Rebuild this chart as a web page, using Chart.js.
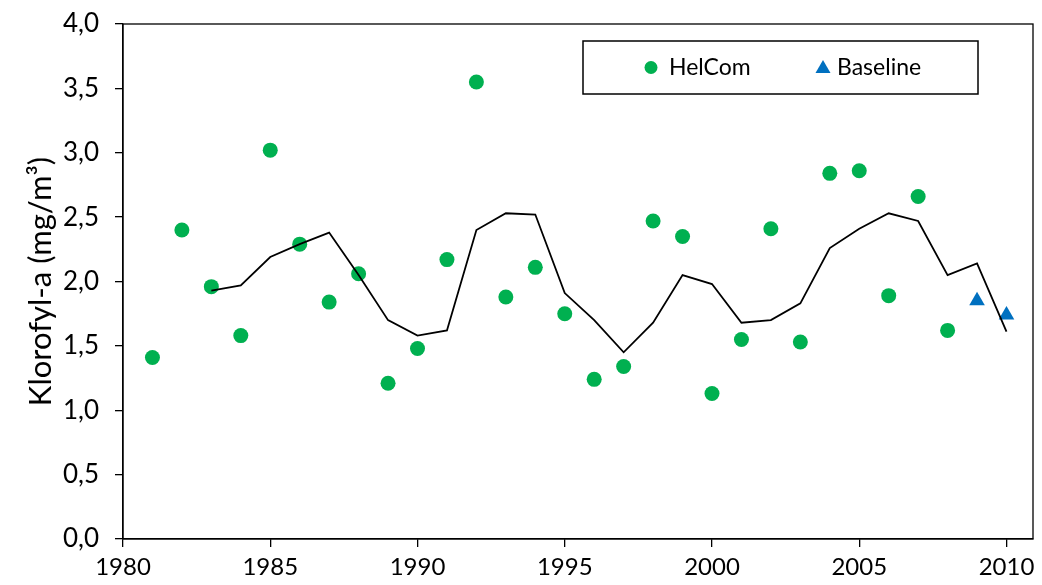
<!DOCTYPE html>
<html>
<head>
<meta charset="utf-8">
<script src="https://cdn.jsdelivr.net/npm/chart.js@4.4.1/dist/chart.umd.min.js"></script>
<style>
  html, body { margin: 0; padding: 0; background: #fff; }
  #wrap { width: 1042px; height: 585px; }
</style>
</head>
<body>
<div id="wrap"><canvas id="klorofyl"></canvas></div>
<script>
// yearly chlorophyll-a, HelCom monitoring
const helcomYears = [1981, 1982, 1983, 1984, 1985, 1986, 1987, 1988, 1989, 1990,
  1991, 1992, 1993, 1994, 1995, 1996, 1997, 1998, 1999, 2000,
  2001, 2002, 2003, 2004, 2005, 2006, 2007, 2008];
const helcomValues = [1.41, 2.40, 1.96, 1.58, 3.02, 2.29, 1.84, 2.06, 1.21, 1.48,
  2.17, 3.55, 1.88, 2.11, 1.75, 1.24, 1.34, 2.47, 2.35, 1.13,
  1.55, 2.41, 1.53, 2.84, 2.86, 1.89, 2.66, 1.62];

// baseline survey
const baselineYears = [2009, 2010];
const baselineValues = [1.85, 1.74];

// running mean
const meanYears = [1983, 1984, 1985, 1986, 1987, 1988, 1989, 1990, 1991, 1992,
  1993, 1994, 1995, 1996, 1997, 1998, 1999, 2000, 2001, 2002,
  2003, 2004, 2005, 2006, 2007, 2008, 2009, 2010];
const meanValues = [1.93, 1.97, 2.19, 2.29, 2.38, 2.05, 1.70, 1.58, 1.62, 2.40,
  2.53, 2.52, 1.91, 1.70, 1.45, 1.68, 2.05, 1.98, 1.68, 1.70,
  1.83, 2.26, 2.41, 2.53, 2.47, 2.05, 2.14, 1.61];

const xTicks = [1980, 1985, 1990, 1995, 2000, 2005, 2010];
const yTicks = [0, 0.5, 1, 1.5, 2, 2.5, 3, 3.5, 4];

const FONT = 'Lato';
const GREEN = '#00B050';
const BLUE = '#0070C0';

function pts(xs, ys) {
  return xs.map((x, i) => ({ x: x, y: ys[i] }));
}

// box round the plot area, plus the framed legend in the top right
const framePlugin = {
  id: 'frame',
  afterDraw(chart) {
    const { ctx, chartArea: a } = chart;
    ctx.save();
    ctx.strokeStyle = '#000';
    ctx.lineWidth = 1.3;
    ctx.strokeRect(a.left, a.top, a.right - a.left, a.bottom - a.top);

    // legend
    const bx = 583, by = 41, bw = 395, bh = 53;
    ctx.fillStyle = '#fff';
    ctx.fillRect(bx, by, bw, bh);
    ctx.lineWidth = 1.5;
    ctx.strokeRect(bx, by, bw, bh);

    const cy = by + bh / 2;
    ctx.fillStyle = GREEN;
    ctx.beginPath();
    ctx.arc(651, cy, 6.5, 0, Math.PI * 2);
    ctx.fill();

    ctx.fillStyle = BLUE;
    ctx.beginPath();
    ctx.moveTo(823, cy - 7.5);
    ctx.lineTo(830.5, cy + 5.5);
    ctx.lineTo(815.5, cy + 5.5);
    ctx.closePath();
    ctx.fill();

    ctx.fillStyle = '#000';
    ctx.font = '23px ' + FONT;
    ctx.textBaseline = 'middle';
    ctx.textAlign = 'left';
    ctx.fillText(chart.data.datasets[1].label, 669, cy);
    ctx.fillText(chart.data.datasets[2].label, 837, cy);
    ctx.restore();
  }
};

const axisGrid = {
  display: true,
  drawOnChartArea: false,
  drawTicks: true,
  tickLength: 8,
  color: '#000',
  lineWidth: 1.3
};

new Chart(document.getElementById('klorofyl'), {
  type: 'scatter',
  data: {
    datasets: [{
      label: 'Mean',
      type: 'line',
      data: pts(meanYears, meanValues),
      borderColor: '#000',
      borderWidth: 1.8,
      pointRadius: 0,
      tension: 0,
      fill: false,
      order: 0
    }, {
      label: 'HelCom',
      data: pts(helcomYears, helcomValues),
      pointStyle: 'circle',
      pointRadius: 7.5,
      backgroundColor: GREEN,
      borderWidth: 0,
      order: 1
    }, {
      label: 'Baseline',
      data: pts(baselineYears, baselineValues),
      pointStyle: 'triangle',
      pointRadius: 9,
      backgroundColor: BLUE,
      borderWidth: 0,
      order: 2
    }]
  },
  options: {
    responsive: true,
    maintainAspectRatio: false,
    animation: false,
    layout: { padding: { top: 24, right: 4, left: 0, bottom: 0 } },
    plugins: {
      legend: { display: false },
      tooltip: { enabled: false }
    },
    scales: {
      x: {
        type: 'linear',
        min: 1980,
        max: 2010.9,
        afterBuildTicks(s) { s.ticks = xTicks.map(v => ({ value: v })); },
        afterFit(s) { s.height = 46; },
        ticks: {
          callback: v => String(v),
          font: { family: FONT, size: 24 },
          color: '#000',
          padding: 6,
          maxRotation: 0,
          autoSkip: false
        },
        grid: axisGrid,
        border: { color: '#000', width: 1.3 }
      },
      y: {
        min: 0,
        max: 4,
        afterBuildTicks(s) { s.ticks = yTicks.map(v => ({ value: v })); },
        afterFit(s) {
          s.width = 123;
          s.paddingTop = 0;
          s.paddingBottom = 0;
        },
        ticks: {
          callback: v => v.toFixed(1).replace('.', ','),
          font: { family: FONT, size: 26 },
          color: '#000',
          padding: 16
        },
        grid: axisGrid,
        border: { color: '#000', width: 1.3 },
        title: {
          display: true,
          text: 'Klorofyl-a (mg/m³)',
          font: { family: FONT, size: 31 },
          color: '#000',
          padding: { top: 22, bottom: 0 }
        }
      }
    }
  },
  plugins: [framePlugin]
});
</script>
</body>
</html>
